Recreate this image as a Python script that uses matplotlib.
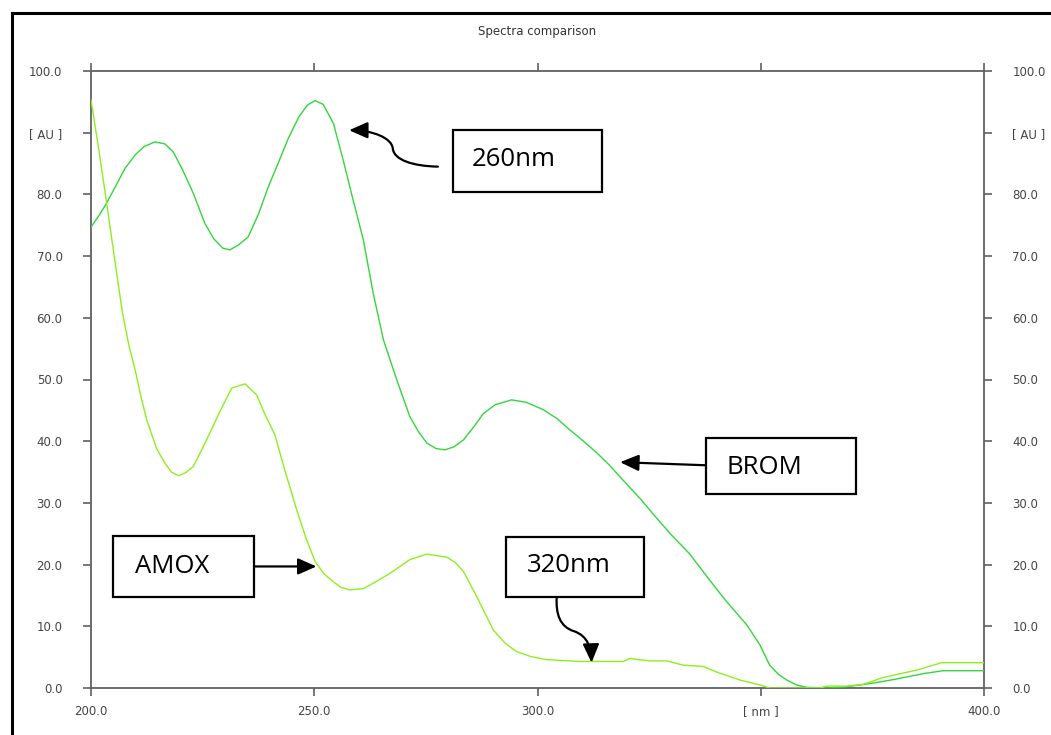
import matplotlib
matplotlib.use('Agg')
import matplotlib.pyplot as plt
from matplotlib.patches import Rectangle, FancyArrowPatch
from matplotlib.path import Path
from matplotlib.lines import Line2D

# Wellenlaengen und Absorption
brom_nm = [200, 202, 203.5, 205.5, 207.6, 210, 212, 214.3, 216.5, 218.4, 220.5, 222.9, 225.5,
           227.5, 229.5, 231.1, 233, 235.2, 237.5, 239.7, 242, 244.2, 246.5, 248.5, 250.2, 252,
           254.3, 256.5, 258.7, 261, 263.2, 265.5, 268.5, 271.4, 273.3, 275.2, 277.3, 279.3,
           281.3, 283.4, 285.7, 287.9, 290.5, 294.2, 297.5, 301.3, 304.3, 307.3, 310.3, 313.3,
           316, 318.5, 320.8, 323, 326, 330, 334, 338, 342, 346.9, 349.8, 352, 354, 355.8, 358,
           360.3, 365, 369, 372.5, 376, 380, 383.4, 387, 390.9, 395, 400]
brom_au = [74.7, 76.8, 78.6, 81.3, 84.2, 86.5, 87.8, 88.5, 88.2, 86.9, 84.0, 80.2, 75.3,
           72.8, 71.3, 71.0, 71.8, 73.1, 76.8, 81.2, 85.2, 89.1, 92.5, 94.5, 95.2, 94.6,
           91.5, 85.5, 79.1, 72.6, 64.0, 56.4, 49.9, 44.0, 41.6, 39.7, 38.8, 38.6,
           39.1, 40.2, 42.3, 44.5, 45.9, 46.7, 46.3, 45.1, 43.7, 41.8, 40.0, 38.1,
           36.2, 34.2, 32.4, 30.7, 28.1, 24.8, 21.8, 18.0, 14.3, 10.2, 7.0, 3.7, 2.2, 1.3, 0.5,
           0.1, 0.0, 0.2, 0.5, 0.9, 1.4, 1.9, 2.4, 2.8, 2.8, 2.8]

amox_nm = [200, 201.8, 203.5, 205.3, 207, 208.5, 209.9, 211.2, 212.5, 214.7, 216.5, 218, 219.6,
           221.2, 222.9, 224.8, 226.6, 229, 231.5, 234.5, 237.1, 239, 241.2, 243.4, 246.1,
           248.2, 250.2, 252.2, 254.3, 256, 258, 261, 264, 267, 271.4, 275.2, 279.7, 281.5,
           283.4, 286.4, 290.1, 292.7, 295.3, 298.5, 302, 309.5, 319.2, 320.7, 322.5, 325.2,
           328.9, 332.6, 337.1, 340.1, 345.3, 349.8, 352, 363.3, 364.7, 369.2, 373, 377.4,
           384.9, 390.5, 400]
amox_au = [95.3, 87.0, 78.6, 69.5, 61.0, 55.5, 51.5, 47.2, 43.4, 38.8, 36.5, 35.0, 34.4,
           34.9, 35.9, 38.6, 41.3, 45.0, 48.6, 49.3, 47.5, 44.3, 41.0, 35.3, 28.8,
           24.2, 20.5, 18.5, 17.2, 16.3, 15.9, 16.1, 17.3, 18.6, 20.8, 21.7, 21.2, 20.4,
           18.9, 14.8, 9.4, 7.3, 5.9, 5.1, 4.6, 4.3, 4.3, 4.8, 4.6, 4.4,
           4.4, 3.7, 3.5, 2.6, 1.3, 0.5, 0.0, 0.0, 0.3, 0.3, 0.6, 1.7,
           2.9, 4.1, 4.1]

x_ticks = [200, 250, 300, 350, 400]
x_labels = ['200.0', '250.0', '300.0', '[ nm ]', '400.0']
y_ticks = list(range(0, 101, 10))
y_labels = ['0.0', '10.0', '20.0', '30.0', '40.0', '50.0', '60.0', '70.0', '80.0', '[ AU ]', '100.0']

achsen_farbe = '#606060'
text_farbe = '#444444'

fig = plt.figure(figsize=(10.51, 7.35), dpi=100)
ax = fig.add_axes([91 / 1051, 1 - 688 / 735, (984 - 91) / 1051, (688 - 71) / 735])

ax.plot(brom_nm, brom_au, color='#33d63c', linewidth=1.0, zorder=3)
ax.plot(amox_nm, amox_au, color='#8cf01e', linewidth=1.0, zorder=3)

ax.set_xlim(200, 400)
ax.set_ylim(0, 100)

for s in ax.spines.values():
    s.set_color(achsen_farbe)
    s.set_linewidth(1.3)

ax.set_xticks(x_ticks)
ax.set_xticklabels(x_labels)
ax.set_yticks(y_ticks)
ax.set_yticklabels(y_labels)
ax.tick_params(axis='both', direction='out', length=5.5, width=1.2, colors=achsen_farbe,
               labelcolor=text_farbe, labelsize=8.5)
ax.tick_params(axis='x', top=True, pad=7)
ax.tick_params(axis='y', right=True, labelright=True, pad=15)
for lab in ax.get_yticklabels(which='both'):
    lab.set_family('DejaVu Sans')

# Titel
fig.text((91 + 984) / 2 / 1051, 1 - 31 / 735, 'Spectra comparison', ha='center', va='center',
         fontsize=8.5, color='#333333')

# Rahmen um die ganze Grafik
fig.add_artist(Line2D([11.5 / 1051, 11.5 / 1051], [0, 1 - 13 / 735], color='black',
                      linewidth=2.2, transform=fig.transFigure))
fig.add_artist(Line2D([11.5 / 1051, 1], [1 - 13 / 735, 1 - 13 / 735], color='black',
                      linewidth=2.2, transform=fig.transFigure))

# Beschriftungskaesten
kaesten = [
    ('260nm', 281.1, 80.4, 33.3, 10.0, 285.3, 85.6),
    ('BROM', 337.7, 31.4, 33.6, 9.1, 342.4, 35.8),
    ('AMOX', 204.9, 14.7, 31.6, 9.9, 209.9, 19.7),
    ('320nm', 292.9, 14.8, 31.0, 9.7, 297.6, 19.8),
]
for txt, x0, y0, w, h, tx, ty in kaesten:
    ax.add_patch(Rectangle((x0, y0), w, h, facecolor='white', edgecolor='black',
                           linewidth=1.6, zorder=5))
    ax.text(tx, ty, txt, ha='left', va='center', fontsize=18.5, family='Open Sans',
            color='black', zorder=6)

pfeil_stil = '-|>,head_length=0.75,head_width=0.33'

# gerade Pfeile
ax.add_patch(FancyArrowPatch((236.5, 19.7), (250.5, 19.7), arrowstyle=pfeil_stil,
                             mutation_scale=15, color='black', linewidth=1.6,
                             shrinkA=0, shrinkB=0, zorder=6))
ax.add_patch(FancyArrowPatch((337.7, 36.1), (318.5, 36.6), arrowstyle=pfeil_stil,
                             mutation_scale=15, color='black', linewidth=1.6,
                             shrinkA=0, shrinkB=0, zorder=6))

# geschwungene Pfeile
codes = [Path.MOVETO, Path.CURVE4, Path.CURVE4, Path.CURVE4, Path.CURVE4, Path.CURVE4, Path.CURVE4]
pfad_260 = Path([(277.7, 84.5), (271.9, 84.6), (267.9, 85.6), (267.6, 87.4),
                 (267.4, 89.2), (262.9, 90.4), (257.8, 90.4)], codes)
pfad_320 = Path([(304.3, 14.7), (304.1, 12.0), (305.0, 9.9), (308.2, 9.2),
                 (311.3, 8.4), (312.0, 6.5), (312.1, 4.1)], codes)
for p in [pfad_260, pfad_320]:
    ax.add_patch(FancyArrowPatch(path=p, arrowstyle=pfeil_stil, mutation_scale=15,
                                 color='black', linewidth=1.6, zorder=6))

plt.savefig('out.png', dpi=100)
